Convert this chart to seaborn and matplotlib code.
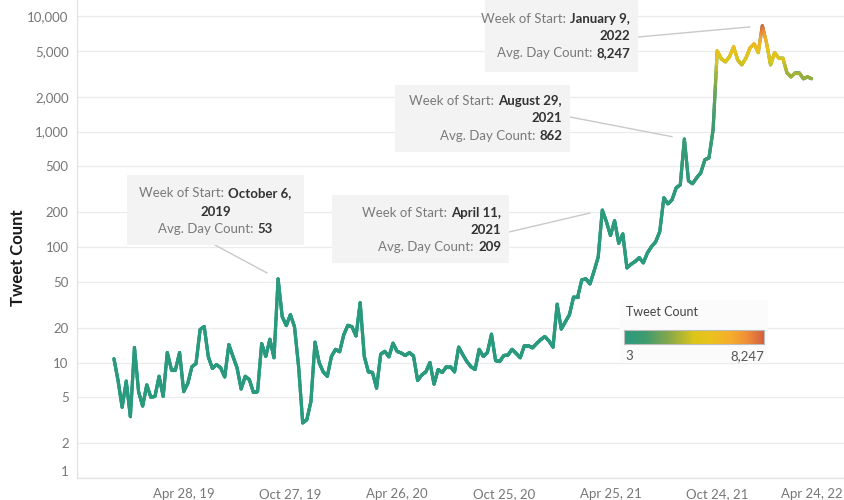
import numpy as np
import pandas as pd
import matplotlib
matplotlib.use("Agg")
import matplotlib.pyplot as plt
import matplotlib.dates as mdates
from matplotlib.collections import LineCollection
from matplotlib.colors import LinearSegmentedColormap, Normalize
from matplotlib.patches import Rectangle
from matplotlib.transforms import ScaledTranslation
import seaborn as sns

# weekly average tweet counts, weeks start on Sunday
FIRST_WEEK = "2018-12-30"
TWEET_COUNT = [
    10.8, 7, 4.1, 6.9, 3.4, 13.5, 5.6, 4.2, 6.4, 5.0,
    5.1, 7.6, 5.1, 12.2, 8.7, 8.7, 12.2, 5.6, 6.6, 9.2,
    9.8, 19.3, 20.5, 11.2, 8.9, 9.6, 9.0, 7.5, 14.3, 11.3,
    9.0, 5.9, 7.6, 7.1, 5.5, 5.6, 14.6, 11.3, 15.9, 11,
    53, 25, 20.9, 26, 20.4, 9.2, 3.0, 3.2, 4.6, 15,
    10, 8.3, 7.6, 11.3, 13, 12.4, 17.4, 21, 20.4, 17,
    33, 11.3, 8.3, 8.2, 6.0, 11.8, 12.5, 11.2, 14.7, 12.5,
    12.1, 11.5, 12.2, 11.4, 7.0, 7.8, 8.3, 10, 6.5, 8.7,
    8.2, 9.2, 9.2, 8.3, 13.6, 11.7, 10.2, 9.2, 8.7, 13,
    11.3, 12.2, 17.6, 10.4, 10.2, 11.5, 11.6, 13, 12, 11,
    14, 14, 13.4, 14.6, 15.8, 16.8, 15.4, 13.6, 32, 19.5,
    22.5, 26, 37, 37, 52, 53, 48, 62, 82, 209,
    166, 126, 169, 108, 130, 66, 71, 75, 81, 73,
    89, 101, 111, 136, 267, 237, 257, 326, 346, 862,
    375, 354, 398, 440, 570, 593, 1038, 5000, 4270, 4020,
    4450, 5420, 4170, 3790, 4330, 5310, 5760, 4830, 8247, 5900,
    3790, 4830, 4330, 4330, 3230, 2980, 3230, 3230, 2870, 2980,
    2870,
]
PEAK_WEEKS = ["2019-10-06", "2021-04-11", "2021-08-29", "2022-01-09"]
Y_TICKS = [1, 2, 5, 10, 20, 50, 100, 200, 500, 1000, 2000, 5000, 10000]
X_TICKS = ["2019-04-28", "2019-10-27", "2020-04-26", "2020-10-25",
           "2021-04-25", "2021-10-24", "2022-04-24"]
LEGEND_RANGE = [3, 8247]
COLORS = [(0.0, "#2a9a7e"), (0.15, "#3f9b70"), (0.32, "#86a84c"), (0.5, "#dcc61a"),
          (0.62, "#ebc21c"), (0.76, "#f6ae2c"), (0.88, "#ef8f38"), (1.0, "#d45f3e")]

W, H = 845, 500
sns.set_theme(style="white")
plt.rcParams["font.family"] = ["Lato", "DejaVu Sans"]

cmap = LinearSegmentedColormap.from_list("tweets", COLORS)
norm = Normalize(*LEGEND_RANGE)

weeks = pd.date_range(FIRST_WEEK, periods=len(TWEET_COUNT), freq="7D")
df = pd.DataFrame({"week": weeks, "count": TWEET_COUNT})

fig = plt.figure(figsize=(W / 100, H / 100), dpi=100)
ax = fig.add_axes([77 / W, 22 / H, 1 - 77 / W, 478 / H])

sns.lineplot(data=df, x="week", y="count", ax=ax, color=cmap(0.0), lw=2.3, zorder=2)

# colour gradient along the line (each segment split so colour changes smoothly)
xn = mdates.date2num(df["week"].dt.to_pydatetime())
ly = np.log10(df["count"].to_numpy())
t = np.linspace(0, 1, 13)
segs, vals = [], []
for i in range(len(xn) - 1):
    px = xn[i] + t * (xn[i + 1] - xn[i])
    py = 10 ** (ly[i] + t * (ly[i + 1] - ly[i]))
    for j in range(len(t) - 1):
        segs.append([(px[j], py[j]), (px[j + 1], py[j + 1])])
        vals.append((py[j] + py[j + 1]) / 2)
lc = LineCollection(segs, colors=cmap(norm(np.array(vals))), linewidths=2.3,
                    capstyle="round", joinstyle="round", zorder=3)
ax.add_collection(lc)

ax.set_yscale("log")
ax.set_ylim(1, 13800)
ax.set_xlim(pd.Timestamp("2018-10-28"), pd.Timestamp("2022-05-30"))
ax.set_yticks(Y_TICKS, [f"{v:,}" for v in Y_TICKS])
ax.minorticks_off()
xt = pd.to_datetime(X_TICKS)
ax.set_xticks(xt, [f"{d:%b} {d.day}, {d:%y}" for d in xt])
ax.set_xlabel("")
ax.set_ylabel("Tweet Count", fontsize=12, color="#1a1a1a", fontweight="bold")
ax.yaxis.set_label_coords(-0.067, 0.46)
ax.tick_params(axis="y", length=0, labelsize=9.5, labelcolor="#777777", pad=6)
ax.tick_params(axis="x", length=4, color="#dddddd", labelsize=9.5, labelcolor="#777777", pad=3)
ax.grid(axis="y", color="#ebebeb", lw=0.9)
ax.grid(axis="x", visible=False)
for side in ["top", "right"]:
    ax.spines[side].set_visible(False)
for side in ["left", "bottom"]:
    ax.spines[side].set_color("#e2e2e2")
    ax.spines[side].set_linewidth(0.9)

# keep the last date label inside the figure, and lift the "1" label off the axis line
last = ax.get_xticklabels()[-1]
last.set_transform(last.get_transform() + ScaledTranslation(-12 / 100, 0, fig.dpi_scale_trans))
first = ax.get_yticklabels()[0]
first.set_transform(first.get_transform() + ScaledTranslation(0, 7 / 100, fig.dpi_scale_trans))

# tooltips for the four peaks: box (px, top-left origin), alignment, line y's, connector start
TIP_BOXES = [
    ((127, 175, 304, 245), "center", (193, 212, 229), (215, 245)),
    ((332, 195, 509, 263), "right", (213, 230, 247), (509, 232)),
    ((395, 85, 570, 152), "right", (101, 118, 136), (570, 117)),
    ((485, 0, 638, 72), "right", (19, 36, 53), (638, 37)),
]
LAB = dict(color="#7a7a7a", fontsize=9.5)
VAL = dict(color="#333333", fontsize=9.5, fontweight="bold")
renderer = fig.canvas.get_renderer()


def text_width(s, style):
    tx = fig.text(0, 0, s, **style)
    w = tx.get_window_extent(renderer).width
    tx.remove()
    return w


for week, (box, align, ys, start) in zip(PEAK_WEEKS, TIP_BOXES):
    d = pd.Timestamp(week)
    v = df.loc[df["week"] == d, "count"].iloc[0]
    x0, y0, x1, y1 = box
    fig.add_artist(Rectangle((x0 / W, 1 - y1 / H), (x1 - x0) / W, (y1 - y0) / H,
                             transform=fig.transFigure, color="#f3f3f3", lw=0, zorder=1))
    lines = [[("Week of Start:", LAB), (f"{d:%B} {d.day},", VAL)],
             [(f"{d.year}", VAL)],
             [("Avg. Day Count:", LAB), (f"{int(round(v)):,}", VAL)]]
    for pieces, yy in zip(lines, ys):
        widths = [text_width(s, st) for s, st in pieces]
        total = sum(widths) + 4 * (len(pieces) - 1)
        if align == "center":
            xs = (x0 + x1) / 2 - total / 2
        else:
            xs = x1 - 8 - total
        for (s, st), w in zip(pieces, widths):
            fig.text(xs / W, 1 - yy / H, s, ha="left", va="center", zorder=4, **st)
            xs += w + 4
    ax.annotate("", xy=(d, v), xytext=(start[0], H - start[1]), textcoords="figure pixels",
                arrowprops=dict(arrowstyle="-", color="#c9c9c9", lw=1, shrinkA=0, shrinkB=9))

# colour legend
fig.add_artist(Rectangle((620 / W, 1 - 363 / H), 148 / W, 63 / H,
                         transform=fig.transFigure, color="#fbfbfb", lw=0, zorder=1))
lax = fig.add_axes([624 / W, 1 - 344 / H, 140 / W, 14 / H])
lax.set_zorder(5)
lax.imshow(np.linspace(0, 1, 256)[None, :], aspect="auto", cmap=cmap,
           extent=[LEGEND_RANGE[0], LEGEND_RANGE[1], 0, 1])
lax.set_xticks([(LEGEND_RANGE[0] + LEGEND_RANGE[1]) / 2], [""])
lax.set_yticks([])
lax.tick_params(axis="x", length=4, width=1, color="#222222", direction="out", pad=0)
for s in lax.spines.values():
    s.set_color("#bdbdbd")
    s.set_linewidth(0.8)
fig.text(626 / W, 1 - 312 / H, "Tweet Count", ha="left", va="center", fontsize=9, color="#444444", zorder=6)
fig.text(625 / W, 1 - 356 / H, f"{LEGEND_RANGE[0]:,}", ha="left", va="center", fontsize=9.5, color="#555555", zorder=6)
fig.text(764 / W, 1 - 356 / H, f"{LEGEND_RANGE[1]:,}", ha="right", va="center", fontsize=9.5, color="#555555", zorder=6)

fig.savefig("out.png", dpi=100)
